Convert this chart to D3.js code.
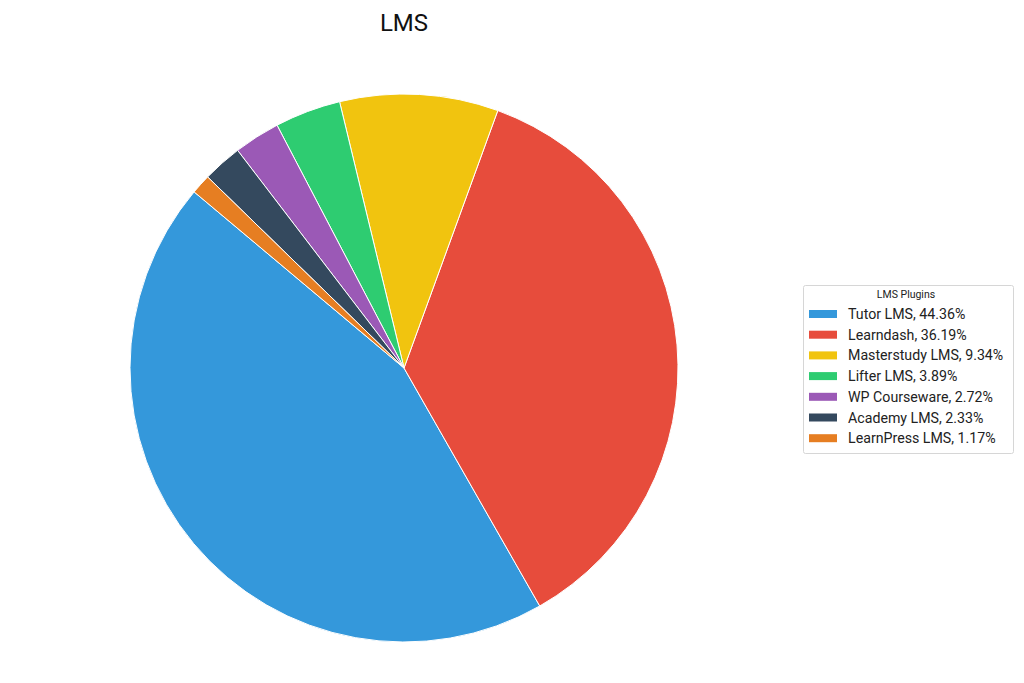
<!DOCTYPE html>
<html>
<head>
<meta charset="utf-8">
<script src="https://cdn.jsdelivr.net/npm/d3@7"></script>
<style>
  body { margin: 0; background: #fff; }
  text { font-family: Roboto, "Noto Sans", sans-serif; }
</style>
</head>
<body>
<div id="chart"></div>
<script>
// data
var labels = ["Tutor LMS", "Learndash", "Masterstudy LMS", "Lifter LMS", "WP Courseware", "Academy LMS", "LearnPress LMS"];
var values = [44.36, 36.19, 9.34, 3.89, 2.72, 2.33, 1.17];
var colors = ["#3498db", "#e74c3c", "#f1c40f", "#2ecc71", "#9b59b6", "#34495e", "#e67e22"];

var width = 1024, height = 683;
var cx = 404, cy = 368, radius = 274;

var svg = d3.select("#chart")
  .append("svg")
    .attr("width", width)
    .attr("height", height);

// title
svg.append("text")
  .attr("x", cx)
  .attr("y", 31)
  .attr("text-anchor", "middle")
  .style("font-size", "24px")
  .style("fill", "#111")
  .text("LMS");

// counterclockwise from 140deg (matplotlib style) -> d3 angles
var start = (90 - 140) * Math.PI / 180;
var pie = d3.pie()
  .sort(null)
  .startAngle(start)
  .endAngle(start - 2 * Math.PI);

var arc = d3.arc().innerRadius(0).outerRadius(radius);

var g = svg.append("g")
  .attr("transform", "translate(" + cx + "," + cy + ")");

g.selectAll("path")
  .data(pie(values))
  .enter()
  .append("path")
    .attr("d", arc)
    .style("fill", function (d, i) { return colors[i]; })
    .style("stroke", "#fff")
    .style("stroke-width", 1);

// legend
var lx = 803, ly = 285, lw = 210, lh = 168, rowH = 20.7;
var legend = svg.append("g").attr("transform", "translate(" + lx + "," + ly + ")");

legend.append("rect")
  .attr("x", 0.5).attr("y", 0.5)
  .attr("width", lw).attr("height", lh)
  .attr("rx", 2)
  .style("fill", "#fff")
  .style("stroke", "#d6d6d6");

legend.append("text")
  .attr("x", 103)
  .attr("y", 13)
  .attr("text-anchor", "middle")
  .style("font-size", "10.5px")
  .style("fill", "#222")
  .text("LMS Plugins");

var rows = legend.selectAll("g.row")
  .data(labels)
  .enter()
  .append("g")
    .attr("class", "row")
    .attr("transform", function (d, i) { return "translate(0," + (29 + i * rowH) + ")"; });

rows.append("rect")
  .attr("x", 6).attr("y", -4)
  .attr("width", 28).attr("height", 8)
  .style("fill", function (d, i) { return colors[i]; });

rows.append("text")
  .attr("x", 45)
  .attr("y", 5)
  .style("font-size", "14.2px")
  .style("fill", "#222")
  .text(function (d, i) { return d + ", " + values[i].toFixed(2) + "%"; });
</script>
</body>
</html>
